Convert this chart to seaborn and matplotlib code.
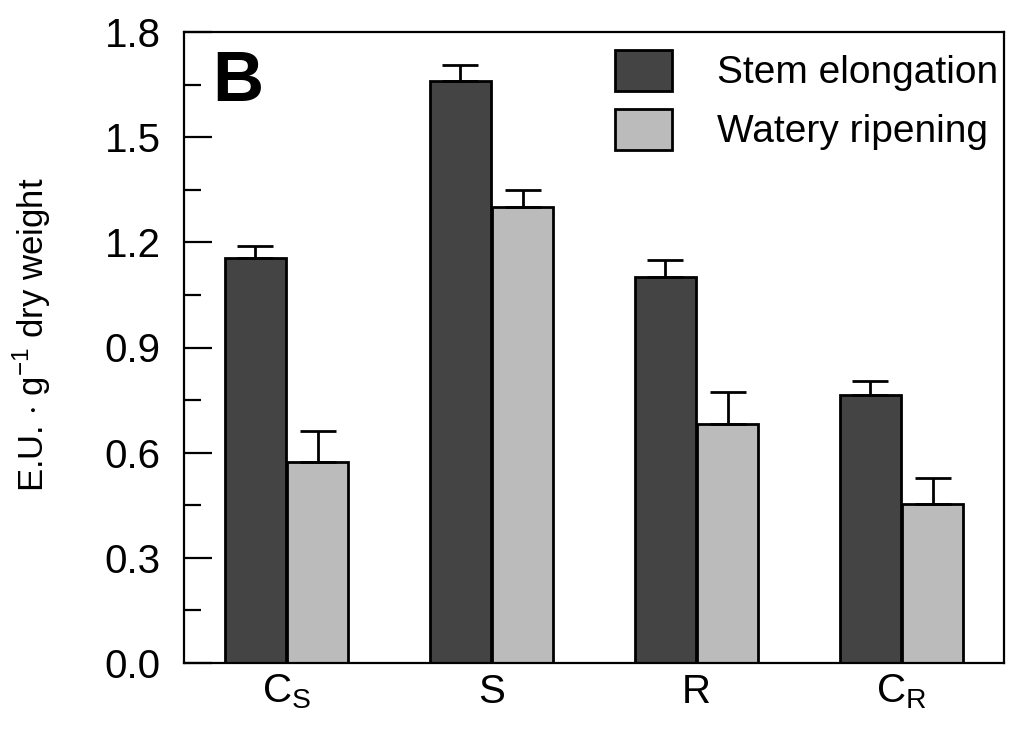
import seaborn as sns
import matplotlib.pyplot as plt
import pandas as pd
from matplotlib.patches import Patch
from matplotlib.ticker import MultipleLocator

# values
groups = [r'C$_\mathrm{S}$', 'S', 'R', r'C$_\mathrm{R}$']
stages = ['Stem elongation', 'Watery ripening']
stem = [1.155, 1.66, 1.10, 0.765]
stem_err = [0.035, 0.045, 0.05, 0.04]
watery = [0.573, 1.30, 0.682, 0.453]
watery_err = [0.088, 0.05, 0.09, 0.076]
colors = ['#444444', '#bbbbbb']

df = pd.DataFrame({
    'group': groups * 2,
    'stage': [stages[0]] * 4 + [stages[1]] * 4,
    'value': stem + watery,
})
errs = [stem_err, watery_err]

sns.set_style("ticks")
plt.rcParams['font.family'] = ['Liberation Sans', 'DejaVu Sans']
plt.rcParams['mathtext.fontset'] = 'custom'
plt.rcParams['mathtext.rm'] = 'Liberation Sans'
plt.rcParams['text.color'] = 'black'
plt.rcParams['axes.labelcolor'] = 'black'
plt.rcParams['xtick.color'] = 'black'
plt.rcParams['ytick.color'] = 'black'

fig = plt.figure(figsize=(10.24, 7.36), dpi=100)
ax = fig.add_axes([184 / 1024, 73 / 736, 820 / 1024, 631 / 736])

sns.barplot(data=df, x='group', y='value', hue='stage', hue_order=stages,
            palette=colors, width=0.61, gap=0.03, edgecolor='black',
            linewidth=2, saturation=1, legend=False, ax=ax)

# upper error bars only
for cont, e in zip(ax.containers, errs):
    xs = [b.get_x() + b.get_width() / 2 for b in cont]
    hs = [b.get_height() for b in cont]
    ax.errorbar(xs, hs, yerr=[[0] * len(e), e], fmt='none', ecolor='black',
                elinewidth=2, capsize=13, capthick=2, zorder=1)

ax.set_xlim(-0.5, 3.5)
ax.set_ylim(0, 1.8)
ax.yaxis.set_major_locator(MultipleLocator(0.3))
ax.yaxis.set_minor_locator(MultipleLocator(0.15))
ax.set_yticks([0.0, 0.3, 0.6, 0.9, 1.2, 1.5, 1.8])
ax.set_yticklabels(['0.0', '0.3', '0.6', '0.9', '1.2', '1.5', '1.8'])
ax.tick_params(axis='y', which='major', direction='in', length=20, width=1.6,
               labelsize=29, pad=17)
ax.tick_params(axis='y', which='minor', direction='in', length=12.5, width=1.6)
ax.tick_params(axis='x', length=0, labelsize=29, pad=7)
for s in ax.spines.values():
    s.set_visible(True)
    s.set_linewidth(1.6)
    s.set_color('black')

ax.set_xlabel('')
ax.set_ylabel(r'E.U. $\cdot$ g$^{\mathrm{-1}}$ dry weight', fontsize=25)
ax.yaxis.set_label_coords(-0.16, 0.521)

ax.text(0.035, 0.972, 'B', transform=ax.transAxes, fontsize=51,
        fontweight='bold', va='top', ha='left')

handles = [Patch(facecolor=c, edgecolor='black', linewidth=2) for c in colors]
ax.legend(handles, stages, loc='upper left', bbox_to_anchor=(0.502, 1.003),
          frameon=False, fontsize=28, borderpad=0, handlelength=1.47,
          handleheight=1.25, handletextpad=1.15, labelspacing=0.45)

plt.savefig('out.png', dpi=100)
